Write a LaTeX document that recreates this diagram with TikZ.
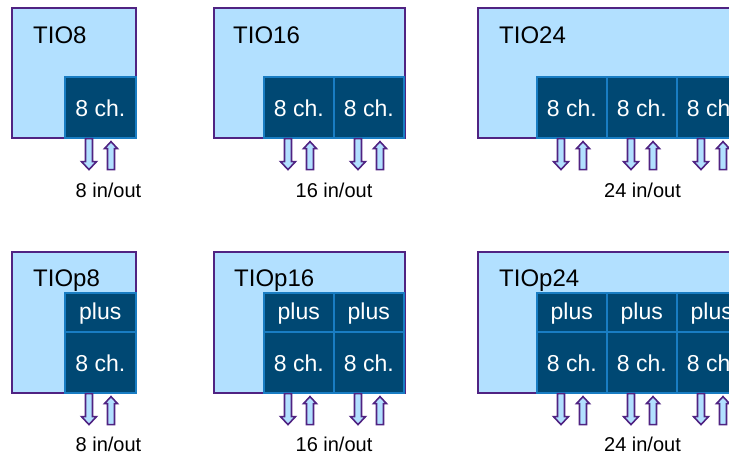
\documentclass[tikz,border=0pt]{standalone}
\usepackage{fontspec}
\setmainfont{Liberation Sans}
\usepackage{tikz}
\usetikzlibrary{positioning}

\definecolor{boxfill}{RGB}{178,224,255}
\definecolor{boxline}{RGB}{80,35,130}
\definecolor{chfill}{RGB}{0,72,115}
\definecolor{chline}{RGB}{25,125,195}

\begin{document}
\begin{tikzpicture}[
  x=1pt, y=-1pt,
  outer/.style={draw=boxline, fill=boxfill, line width=1.8pt, anchor=north west, inner sep=0pt},
  chbox/.style={draw=chline, fill=chfill, line width=1.6pt, anchor=north west, text=white,
    minimum width=70pt, minimum height=61pt, inner sep=0pt, font=\fontsize{23}{26}\selectfont,
    text height=19pt, text depth=0pt},
  plusbox/.style={chbox, minimum height=39pt, text height=19pt, text depth=5pt},
  title/.style={anchor=base west, inner sep=0pt, font=\fontsize{24}{28}\selectfont},
  io/.style={anchor=base, inner sep=0pt, font=\fontsize{20}{24}\selectfont},
  arrline/.style={draw=boxline, fill=boxfill, line width=1.6pt},
  pics/dnarr/.style={code={\draw[arrline] (-3.5,0) -- (-3.5,23) -- (-7.5,23) -- (0,31) -- (7.5,23) -- (3.5,23) -- (3.5,0) -- cycle;}},
  pics/uparr/.style={code={\draw[arrline] (-3.5,28) -- (-3.5,7) -- (-6.5,7) -- (0,0) -- (6.5,7) -- (3.5,7) -- (3.5,28) -- cycle;}}
]
\path[use as bounding box, clip] (0,0) rectangle (729,453);

% top row
\node[outer, minimum width=124pt, minimum height=130pt] (o8) at (11,7) {};
\node[outer, minimum width=191pt, minimum height=130pt] (o16) at (213,7) {};
\node[outer, minimum width=269pt, minimum height=130pt] (o24) at (477,7) {};
\node[title] (t8) at (33,43) {TIO8};
\node[title] (t16) at (233,43) {TIO16};
\node[title] (t24) at (499,43) {TIO24};
\node[chbox, minimum width=71pt] (c8a) at (64,76) {8 ch.};
\node[chbox] (c16a) at (263,76) {8 ch.};
\node[chbox] (c16b) at (333,76) {8 ch.};
\node[chbox] (c24a) at (536,76) {8 ch.};
\node[chbox] (c24b) at (606,76) {8 ch.};
\node[chbox] (c24c) at (676,76) {8 ch.};
\node[io] (l8) at (108.5,197) {8 in/out};
\node[io] (l16) at (334,197) {16 in/out};
\node[io] (l24) at (642.5,197) {24 in/out};

% bottom row
\node[outer, minimum width=124pt, minimum height=141pt] (op8) at (11,251) {};
\node[outer, minimum width=191pt, minimum height=141pt] (op16) at (213,251) {};
\node[outer, minimum width=269pt, minimum height=141pt] (op24) at (477,251) {};
\node[title] (tp8) at (33,286) {TIOp8};
\node[title] (tp16) at (234,286) {TIOp16};
\node[title] (tp24) at (499,286) {TIOp24};
\node[plusbox, minimum width=71pt] (u8a) at (64,292) {plus};
\node[plusbox] (u16a) at (263,292) {plus};
\node[plusbox] (u16b) at (333,292) {plus};
\node[plusbox] (u24a) at (536,292) {plus};
\node[plusbox] (u24b) at (606,292) {plus};
\node[plusbox] (u24c) at (676,292) {plus};
\node[chbox, minimum width=71pt] (p8a) at (64,331) {8 ch.};
\node[chbox] (p16a) at (263,331) {8 ch.};
\node[chbox] (p16b) at (333,331) {8 ch.};
\node[chbox] (p24a) at (536,331) {8 ch.};
\node[chbox] (p24b) at (606,331) {8 ch.};
\node[chbox] (p24c) at (676,331) {8 ch.};
\node[io] (lp8) at (108.5,451) {8 in/out};
\node[io] (lp16) at (334,451) {16 in/out};
\node[io] (lp24) at (642.5,451) {24 in/out};

% in/out arrows under every channel block
\foreach \b in {c8a,c16a,c16b,c24a,c24b,c24c,p8a,p16a,p16b,p24a,p24b,p24c} {
  \pic at ([xshift=25pt]\b.south west) {dnarr};
  \pic at ([xshift=47pt,yshift=-3pt]\b.south west) {uparr};
}
\end{tikzpicture}
\end{document}
